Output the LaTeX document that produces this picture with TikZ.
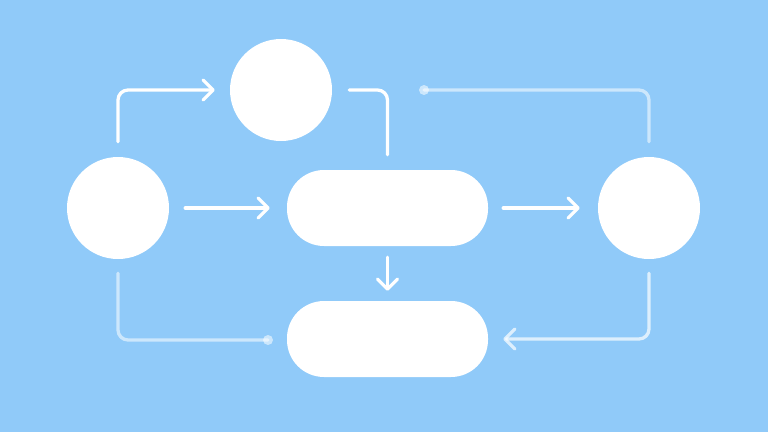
\documentclass[tikz,border=0pt]{standalone}
\usetikzlibrary{arrows.meta}
\definecolor{bg}{HTML}{90CAF9}
\begin{document}
\begin{tikzpicture}[x=1pt,y=-1pt,
  disc/.style={circle,fill=white,draw=none,minimum size=102pt,inner sep=0pt},
  pill/.style={rectangle,fill=white,draw=none,rounded corners=37pt,minimum width=201pt,minimum height=76pt,inner sep=0pt},
  conn/.style={draw=white,line width=3.3pt,line cap=round,line join=round,rounded corners=10pt},
  faint/.style={conn,draw=white,draw opacity=0.55},
  faintB/.style={conn,draw=white,draw opacity=0.7},
  tip/.style={-{Straight Barb[length=10pt,width=20pt,line cap=round,line join=round]}},
  dot/.style={circle,fill=white,inner sep=0pt,minimum size=9pt}]
\fill[bg] (0,0) rectangle (768,432);
\useasboundingbox (0,0) rectangle (768,432);
\node[disc] (l) at (118,208) {};
\node[disc] (t) at (281,90) {};
\node[disc] (r) at (649,208) {};
\node[pill] (m) at (387.5,208) {};
\node[pill] (b) at (387.5,339) {};
\coordinate (d1) at (424,90);
\coordinate (d2) at (268,340);
% solid connectors
\draw[conn,tip,shorten <=15pt,shorten >=15pt] (l.north) |- (t.west);
\draw[conn,shorten <=17pt,shorten >=15pt] (t.east) -| (m.north);
\draw[conn,tip,shorten <=16pt,shorten >=17pt] (l.east) -- (m.west);
\draw[conn,tip,shorten <=15pt,shorten >=18pt] (m.east) -- (r.west);
\draw[conn,tip,shorten <=11pt,shorten >=10pt] (m.south) -- (b.north);
% faint connectors
\draw[faint,shorten >=15pt] (d1) -| (r.north);
\fill[white,opacity=0.55] (d1) circle (5pt);
\draw[faint,shorten <=14pt] (l.south) |- (d2);
\fill[white,opacity=0.55] (d2) circle (5pt);
\draw[faintB,tip,shorten <=14pt,shorten >=15pt] (r.south) |- (b.east);
\end{tikzpicture}
\end{document}
